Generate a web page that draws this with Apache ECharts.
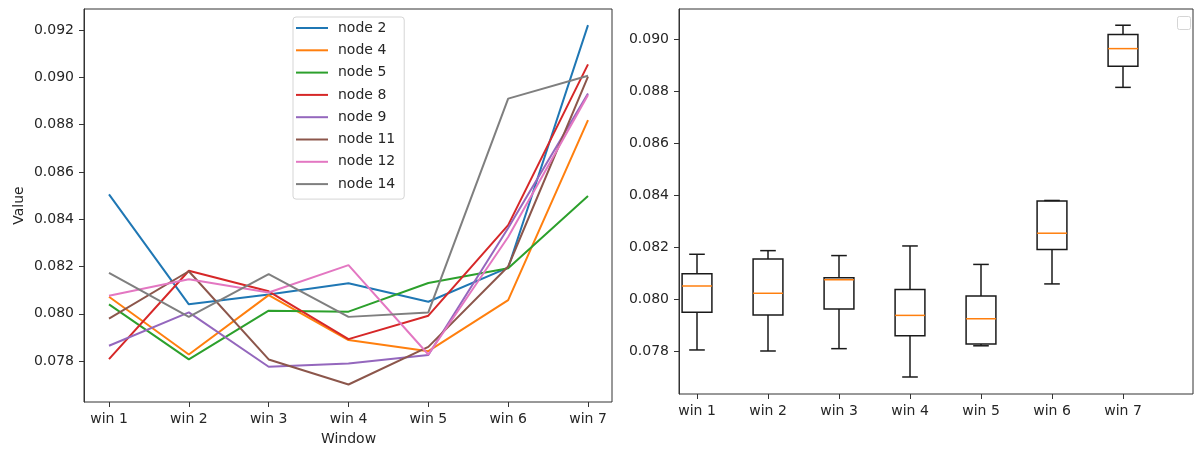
<!DOCTYPE html>
<html><head><meta charset="utf-8">
<script src="https://cdn.jsdelivr.net/npm/echarts@6/dist/echarts.min.js"></script>
<style>html,body{margin:0;padding:0;background:#fff}#c{width:1195px;height:451px}</style>
</head><body><div id="c"></div>
<script>
// ---- data ----
const categories = ['win 1', 'win 2', 'win 3', 'win 4', 'win 5', 'win 6', 'win 7'];
const nodeNames = ['node 2', 'node 4', 'node 5', 'node 8', 'node 9', 'node 11', 'node 12', 'node 14'];
const node2  = [0.08505, 0.08040, 0.08082, 0.08129, 0.08051, 0.08195, 0.09221];
const node4  = [0.08072, 0.07828, 0.08079, 0.07889, 0.07842, 0.08058, 0.08819];
const node5  = [0.08040, 0.07807, 0.08013, 0.08009, 0.08130, 0.08193, 0.08498];
const node8  = [0.07808, 0.08182, 0.08095, 0.07893, 0.07992, 0.08375, 0.09055];
const node9  = [0.07865, 0.08006, 0.07776, 0.07790, 0.07826, 0.08363, 0.08932];
const node11 = [0.07980, 0.08180, 0.07807, 0.07701, 0.07860, 0.08200, 0.09003];
const node12 = [0.08076, 0.08146, 0.08090, 0.08206, 0.07828, 0.08325, 0.08925];
const node14 = [0.08173, 0.07987, 0.08168, 0.07987, 0.08006, 0.08910, 0.09007];
const yTicksLeft  = [0.078, 0.080, 0.082, 0.084, 0.086, 0.088, 0.090, 0.092];
const yTicksRight = [0.078, 0.080, 0.082, 0.084, 0.086, 0.088, 0.090];
const boxMin    = [0.07804, 0.07800, 0.07809, 0.07700, 0.07820, 0.08058, 0.08814];
const boxQ1     = [0.07949, 0.07938, 0.07962, 0.07859, 0.07827, 0.08190, 0.08895];
const boxMedian = [0.08050, 0.08022, 0.08074, 0.07937, 0.07924, 0.08253, 0.08963];
const boxQ3     = [0.08097, 0.08154, 0.08082, 0.08037, 0.08012, 0.08377, 0.09017];
const boxMax    = [0.08172, 0.08186, 0.08167, 0.08204, 0.08133, 0.08379, 0.09053];

// ---- style ----
const FONT = 'DejaVu Sans';
const TXT = '#262626';
const SPINE = '#333333';
const colors = ['#1f77b4', '#ff7f0e', '#2ca02c', '#d62728', '#9467bd', '#8c564b', '#e377c2', '#7f7f7f'];
const lineData = [node2, node4, node5, node8, node9, node11, node12, node14];
const yRangeLeft = [0.07627, 0.09289];
const yRangeRight = [0.076346, 0.091154];

const chart = echarts.init(document.getElementById('c'), null, { renderer: 'canvas' });

const labelStyle = { fontFamily: FONT, fontSize: 14, color: TXT };
const tickStyle = { show: true, length: 5, inside: false, lineStyle: { color: SPINE, width: 1 } };

function visibleY(gridIndex, range, ticks, extra) {
  return Object.assign({
    gridIndex: gridIndex, type: 'value', min: range[0], max: range[1],
    axisLine: { show: true, lineStyle: { color: SPINE, width: 1 } },
    axisTick: Object.assign({}, tickStyle, { customValues: ticks }),
    axisLabel: Object.assign({}, labelStyle, { margin: 10, customValues: ticks, formatter: v => v.toFixed(3) }),
    splitLine: { show: false }
  }, extra || {});
}

const option = {
  animation: false,
  backgroundColor: '#ffffff',
  color: colors,
  grid: [
    { left: 84, top: 9, width: 528, height: 393, show: true, borderColor: SPINE, borderWidth: 1, backgroundColor: 'transparent' },
    { left: 109, top: 9, width: 479, height: 393 },
    { left: 679, top: 9, width: 514, height: 385, show: true, borderColor: SPINE, borderWidth: 1, backgroundColor: 'transparent' },
    { left: 661.5, top: 9, width: 497, height: 385 }
  ],
  xAxis: [
    { gridIndex: 0, type: 'value', show: false, min: 0, max: 1 },
    {
      gridIndex: 1, type: 'category', data: categories, boundaryGap: false,
      axisLine: { show: false }, axisTick: tickStyle,
      axisLabel: Object.assign({}, labelStyle, { margin: 10 }),
      name: 'Window', nameLocation: 'middle', nameGap: 30,
      nameTextStyle: { fontFamily: FONT, fontSize: 14, color: TXT }
    },
    { gridIndex: 2, type: 'value', show: false, min: 0, max: 1 },
    {
      gridIndex: 3, type: 'category', data: categories, boundaryGap: true,
      axisLine: { show: false }, axisTick: Object.assign({}, tickStyle, { alignWithLabel: true }),
      axisLabel: Object.assign({}, labelStyle, { margin: 10 })
    }
  ],
  yAxis: [
    visibleY(0, yRangeLeft, yTicksLeft, {
      name: 'Value', nameLocation: 'middle', nameGap: 58,
      nameTextStyle: { fontFamily: FONT, fontSize: 14, color: TXT }
    }),
    { gridIndex: 1, type: 'value', show: false, min: yRangeLeft[0], max: yRangeLeft[1] },
    visibleY(2, yRangeRight, yTicksRight),
    { gridIndex: 3, type: 'value', show: false, min: yRangeRight[0], max: yRangeRight[1] }
  ],
  legend: {
    data: nodeNames, orient: 'vertical', left: 293, top: 17,
    icon: 'rect', itemWidth: 32, itemHeight: 2, itemGap: 6.3,
    padding: [3, 9, 7, 3],
    backgroundColor: '#ffffff', borderColor: '#d5d5d5', borderWidth: 1, borderRadius: 3,
    textStyle: { fontFamily: FONT, fontSize: 14, color: TXT, lineHeight: 16, padding: [0, 0, 0, 5] }
  },
  graphic: [{
    type: 'rect', left: 1177, top: 16, shape: { width: 13, height: 13, r: 2 },
    style: { fill: '#ffffff', stroke: '#d5d5d5', lineWidth: 1 }
  }],
  series: nodeNames.map((n, i) => ({
    name: n, type: 'line', xAxisIndex: 1, yAxisIndex: 1,
    data: lineData[i], showSymbol: false, symbol: 'none',
    lineStyle: { width: 2, color: colors[i] }, itemStyle: { color: colors[i] },
    z: 2 + i
  })).concat([{
    type: 'custom', xAxisIndex: 3, yAxisIndex: 3,
    data: categories.map((c, i) => [i, boxMin[i], boxQ1[i], boxMedian[i], boxQ3[i], boxMax[i]]),
    encode: { x: 0, y: [1, 2, 3, 4, 5] },
    renderItem: function (params, api) {
      const xi = api.value(0);
      const band = api.size([1, 0])[0];
      const half = band * 0.21;
      const cap = band * 0.11;
      const pMin = api.coord([xi, api.value(1)]);
      const pQ1 = api.coord([xi, api.value(2)]);
      const pMed = api.coord([xi, api.value(3)]);
      const pQ3 = api.coord([xi, api.value(4)]);
      const pMax = api.coord([xi, api.value(5)]);
      const cx = pMed[0];
      const blk = { stroke: '#1a1a1a', lineWidth: 1.5, fill: null };
      return {
        type: 'group',
        children: [
          { type: 'line', shape: { x1: cx, y1: pQ1[1], x2: cx, y2: pMin[1] }, style: blk },
          { type: 'line', shape: { x1: cx, y1: pQ3[1], x2: cx, y2: pMax[1] }, style: blk },
          { type: 'line', shape: { x1: cx - cap, y1: pMin[1], x2: cx + cap, y2: pMin[1] }, style: blk },
          { type: 'line', shape: { x1: cx - cap, y1: pMax[1], x2: cx + cap, y2: pMax[1] }, style: blk },
          { type: 'rect', shape: { x: cx - half, y: pQ3[1], width: half * 2, height: pQ1[1] - pQ3[1] },
            style: { stroke: '#1a1a1a', lineWidth: 1.5, fill: 'rgba(0,0,0,0)' } },
          { type: 'line', shape: { x1: cx - half, y1: pMed[1], x2: cx + half, y2: pMed[1] },
            style: { stroke: '#ff7f0e', lineWidth: 1.5 } }
        ]
      };
    }
  }])
};
chart.setOption(option);
</script>
</body></html>
